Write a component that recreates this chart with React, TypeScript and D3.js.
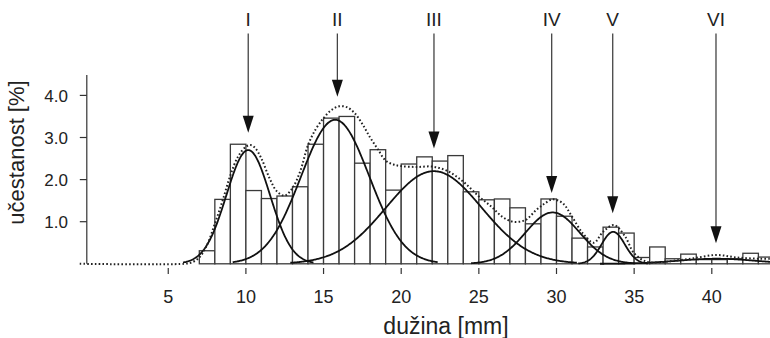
import React from 'react';
import * as d3 from 'd3';

// Histogram bins (bin start in mm, width 1 mm) and frequencies [%]
const binStarts = [7, 8, 9, 10, 11, 12, 13, 14, 15, 16, 17, 18, 19, 20, 21, 22, 23, 24, 25, 26, 27, 28, 29, 30, 31, 32, 33, 34, 35, 36, 37, 38, 39, 40, 41, 42, 43];
const binValues = [0.31, 1.53, 2.84, 1.74, 1.55, 1.61, 1.83, 2.84, 3.46, 3.5, 2.39, 2.71, 1.75, 2.37, 2.54, 2.44, 2.57, 1.71, 1.52, 1.54, 1.33, 0.95, 1.54, 1.13, 0.61, 0.4, 0.87, 0.73, 0.15, 0.4, 0.12, 0.23, 0.1, 0.1, 0.12, 0.25, 0.16];

// Fitted normal components I–VI
const compNames = ['I', 'II', 'III', 'IV', 'V', 'VI'];
const compMeans = [10.15, 15.75, 22.1, 29.75, 33.65, 40.3];
const compSDs = [1.4, 2.2, 3.08, 1.75, 0.75, 2.5];
const compPeaks = [2.7, 3.42, 2.2, 1.22, 0.76, 0.12];

// Arrows marking the components (x in mm, tip height in %)
const arrowX = [10.15, 15.89, 22.11, 29.69, 33.62, 40.27];
const arrowTip = [3.11, 3.97, 2.74, 1.68, 1.2, 0.49];

// Dotted overall curve
const totalX = [-0.7, 6.0, 6.5, 7.0, 7.5, 8.0, 8.5, 9.0, 9.5, 10.0, 10.3, 10.6, 11.0, 11.5, 12.0, 12.5, 13.0, 13.5, 14.0, 14.5, 15.0, 15.5, 16.0, 16.5, 17.0, 17.5, 18.0, 18.5, 19.0, 19.5, 20.0, 21.0, 22.0, 23.0, 24.0, 25.0, 25.8, 26.5, 27.2, 28.0, 28.7, 29.2, 29.75, 30.4, 31.0, 31.7, 32.4, 33.0, 33.7, 34.4, 35.0, 35.8, 36.7, 37.5, 38.8, 40.3, 41.6, 43.1, 43.8];
const totalY = [0, 0, 0.03, 0.15, 0.45, 0.95, 1.5, 2.1, 2.55, 2.78, 2.82, 2.75, 2.5, 2.05, 1.72, 1.62, 1.8, 2.2, 2.82, 3.2, 3.46, 3.65, 3.74, 3.72, 3.58, 3.32, 3.0, 2.72, 2.45, 2.36, 2.32, 2.3, 2.31, 2.2, 1.95, 1.6, 1.36, 1.12, 1.0, 1.04, 1.28, 1.42, 1.53, 1.44, 1.12, 0.72, 0.5, 0.76, 0.92, 0.66, 0.25, 0.05, 0.04, 0.07, 0.13, 0.21, 0.15, 0.12, 0.12];

const xTicks = [5, 10, 15, 20, 25, 30, 35, 40];
const yTicks = [1, 2, 3, 4];
const yTickLabels = ['1.0', '2.0', '3.0', '4.0'];

const W = 770;
const H = 338;
const FONT = '"Liberation Sans", Arial, Helvetica, sans-serif';

export default function App() {
  const x = d3.scaleLinear().domain([0, 40]).range([90.6, 711.8]);
  const y = d3.scaleLinear().domain([0, 4]).range([263.8, 95.4]);
  const axisX = 86.8;
  const yTop = 75;

  const line = d3
    .line<[number, number]>()
    .x((d) => x(d[0]))
    .y((d) => y(d[1]))
    .curve(d3.curveCatmullRom.alpha(0.5));

  const gaussLine = d3
    .line<[number, number]>()
    .x((d) => x(d[0]))
    .y((d) => y(d[1]));

  const compPaths = compMeans.map((m, i) => {
    const s = compSDs[i];
    const a = compPeaks[i];
    const pts: [number, number][] = d3
      .range(m - 3 * s, m + 3 * s + 0.001, 0.05)
      .map((v) => [v, a * Math.exp(-((v - m) * (v - m)) / (2 * s * s))]);
    return gaussLine(pts) as string;
  });

  const totalPath = line(totalX.map((v, i) => [v, totalY[i]] as [number, number])) as string;

  const headH = 17;
  const headW = 11;

  return (
    <svg
      width={W}
      height={H}
      style={{ position: 'absolute', left: 0, top: 0, background: '#fff' }}
      fontFamily={FONT}
    >
      <rect x={0} y={0} width={W} height={H} fill="#fff" />
      <defs>
        <clipPath id="plotClip">
          <rect x={0} y={0} width={W} height={H} />
        </clipPath>
      </defs>

      {/* bars */}
      <g clipPath="url(#plotClip)">
        {binStarts.map((b, i) => (
          <rect
            key={b}
            x={x(b)}
            y={y(binValues[i])}
            width={x(b + 1) - x(b)}
            height={y(0) - y(binValues[i])}
            fill="#fff"
            stroke="#3a3a3a"
            strokeWidth={1.3}
          />
        ))}
      </g>

      {/* y axis */}
      <line x1={axisX} x2={axisX} y1={yTop} y2={y(0)} stroke="#333" strokeWidth={1.2} />
      {yTicks.map((t, i) => (
        <g key={t}>
          <line x1={axisX - 7} x2={axisX} y1={y(t)} y2={y(t)} stroke="#333" strokeWidth={1.2} />
          <text x={68} y={y(t)} dy="0.36em" textAnchor="end" fontSize={17} fill="#222">
            {yTickLabels[i]}
          </text>
        </g>
      ))}

      {/* x ticks */}
      {xTicks.map((t) => (
        <g key={t}>
          <line x1={x(t)} x2={x(t)} y1={268} y2={274} stroke="#333" strokeWidth={1.2} />
          <text x={x(t)} y={302.5} textAnchor="middle" fontSize={18} fill="#222">
            {t}
          </text>
        </g>
      ))}

      {/* components */}
      <g clipPath="url(#plotClip)" fill="none" stroke="#111" strokeWidth={1.8}>
        {compPaths.map((p, i) => (
          <path key={compNames[i]} d={p} />
        ))}
      </g>

      {/* total dotted */}
      <path
        d={totalPath}
        fill="none"
        stroke="#222"
        strokeWidth={2}
        strokeDasharray="1.6 2.2"
        clipPath="url(#plotClip)"
      />

      {/* arrows and labels */}
      {arrowX.map((a, i) => {
        const ax = x(a);
        const tip = y(arrowTip[i]);
        return (
          <g key={compNames[i]}>
            <line x1={ax} x2={ax} y1={33.5} y2={tip - headH + 1} stroke="#444" strokeWidth={1.3} />
            <path
              d={`M${ax - headW / 2},${tip - headH} L${ax + headW / 2},${tip - headH} L${ax},${tip} Z`}
              fill="#111"
            />
            <text x={ax} y={26} textAnchor="middle" fontSize={19} fill="#222">
              {compNames[i]}
            </text>
          </g>
        );
      })}

      {/* axis titles */}
      <text x={446} y={334} textAnchor="middle" fontSize={23} fill="#222">
        dužina [mm]
      </text>
      <text
        transform={`translate(24,152.5) rotate(-90)`}
        textAnchor="middle"
        fontSize={22}
        fill="#222"
      >
        učestanost [%]
      </text>
    </svg>
  );
}
